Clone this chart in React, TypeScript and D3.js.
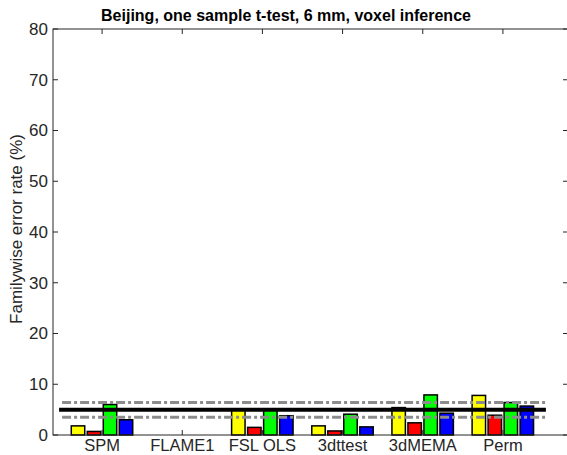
import React from 'react';
import * as d3 from 'd3';

const categories = ['SPM', 'FLAME1', 'FSL OLS', '3dttest', '3dMEMA', 'Perm'];
const series = ['s1', 's2', 's3', 's4'];
const seriesColors = ['#ffff00', '#ff0000', '#00ff00', '#0000ff'];
// familywise error rate (%) per category, one array per series
const s1Values = [1.8, 0, 5.0, 1.8, 5.4, 7.8];
const s2Values = [0.7, 0, 1.5, 0.8, 2.4, 3.9];
const s3Values = [6.0, 0, 5.0, 4.1, 7.9, 6.4];
const s4Values = [3.0, 0, 3.8, 1.6, 4.3, 5.7];
const yTicks = [0, 10, 20, 30, 40, 50, 60, 70, 80];
const nominal = 5;
const ciUpper = 6.4;
const ciLower = 3.5;

const W = 567;
const H = 455;
const left = 53;
const right = 568;
const top = 29;
const bottom = 435;
const font = '"Liberation Sans", Arial, Helvetica, sans-serif';
const axisColor = '#262626';

export default function App() {
  const x = d3.scaleBand<string>().domain(categories).range([62, 543]).paddingInner(0);
  const xi = d3.scaleBand<string>().domain(series).range([8, 72]).paddingInner(0.16).paddingOuter(0.08);
  const y = d3.scaleLinear().domain([0, 80]).range([bottom, top]);
  const allValues = [s1Values, s2Values, s3Values, s4Values];
  const cx = (c: string) => (x(c) as number) + x.bandwidth() / 2;
  const lineX1 = cx(categories[0]) - 43;
  const lineX2 = cx(categories[categories.length - 1]) + 43;
  const tickLen = 5;

  return (
    <svg width={W} height={H} style={{ position: 'absolute', left: 0, top: 0, background: '#fff' }}>
      <text x={286} y={21} textAnchor="middle" fontFamily={font} fontWeight="bold" fontSize={16} fill="#000">
        Beijing, one sample t-test, 6 mm, voxel inference
      </text>

      {/* bars */}
      {categories.map((c, ci) => (
        <g key={c}>
          {series.map((s, si) => {
            const v = allValues[si][ci];
            if (!v) return null;
            return (
              <rect
                key={s}
                x={(x(c) as number) + (xi(s) as number)}
                y={y(v)}
                width={xi.bandwidth()}
                height={y(0) - y(v)}
                fill={seriesColors[si]}
                stroke="#000"
                strokeWidth={1.5}
              />
            );
          })}
        </g>
      ))}

      {/* reference lines */}
      <line x1={lineX1 + 3} x2={lineX2} y1={y(ciUpper)} y2={y(ciUpper)} stroke="#8c8c8c" strokeWidth={3} strokeDasharray="9,3,3,3" />
      <line x1={lineX1 + 3} x2={lineX2} y1={y(ciLower)} y2={y(ciLower)} stroke="#8c8c8c" strokeWidth={3} strokeDasharray="9,3,3,3" />
      <line x1={lineX1} x2={lineX2} y1={y(nominal)} y2={y(nominal)} stroke="#000" strokeWidth={4} />

      {/* axes box */}
      <rect x={left} y={top} width={right - left} height={bottom - top} fill="none" stroke={axisColor} strokeWidth={1} />
      {yTicks.map((t) => (
        <g key={t}>
          <line x1={left} x2={left + tickLen} y1={y(t)} y2={y(t)} stroke={axisColor} />
          <line x1={right - tickLen} x2={right} y1={y(t)} y2={y(t)} stroke={axisColor} />
          <text x={left - 5} y={y(t)} dy="0.35em" textAnchor="end" fontFamily={font} fontSize={17} fill="#262626">
            {t}
          </text>
        </g>
      ))}
      {categories.map((c) => (
        <g key={c}>
          <line x1={cx(c)} x2={cx(c)} y1={bottom} y2={bottom - tickLen} stroke={axisColor} />
          <line x1={cx(c)} x2={cx(c)} y1={top} y2={top + tickLen} stroke={axisColor} />
          <text x={cx(c)} y={bottom + 16} textAnchor="middle" fontFamily={font} fontSize={16.5} fill="#262626">
            {c}
          </text>
        </g>
      ))}
      <text
        transform={`translate(22,${(top + bottom) / 2 - 3}) rotate(-90)`}
        textAnchor="middle"
        fontFamily={font}
        fontSize={17}
        fill="#262626"
      >
        Familywise error rate (%)
      </text>
    </svg>
  );
}
